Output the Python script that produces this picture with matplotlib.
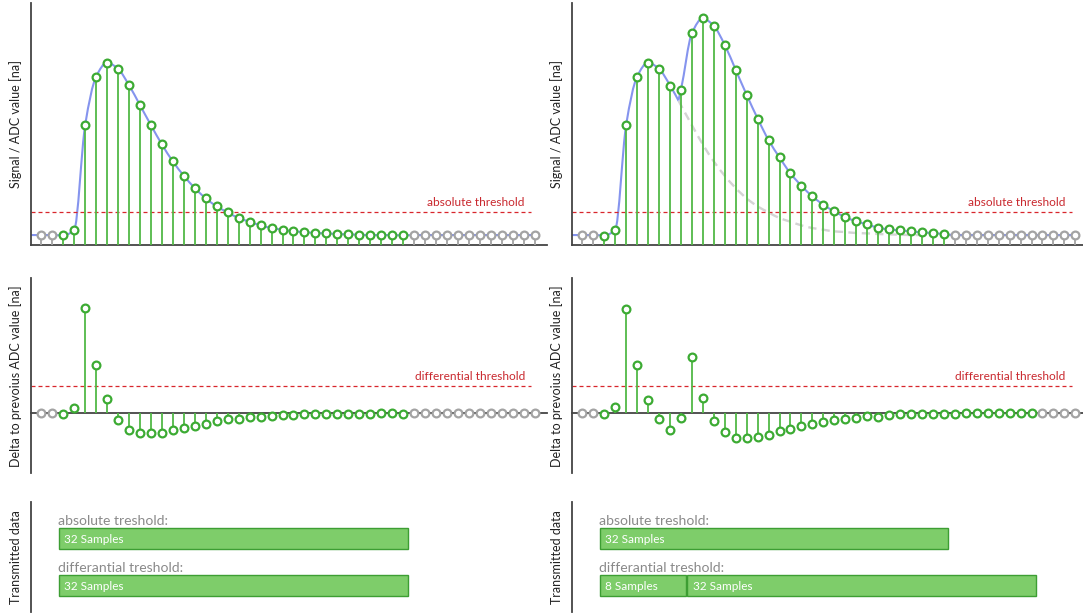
import numpy as np
import matplotlib
matplotlib.use("Agg")
import matplotlib.pyplot as plt
from matplotlib.path import Path
from matplotlib.patches import PathPatch, Rectangle

plt.rcParams["font.family"] = ["Lato", "DejaVu Sans"]

# ---------------------------------------------------------------- data
samples = np.arange(46)

# ADC values of a single pulse
signal_single = [29, 29, 28, 45, 360, 505, 547, 528, 479, 419, 359, 301, 250, 207,
                 170, 139, 115, 97, 80, 69, 58, 50, 45, 40, 38, 35, 34, 32, 31, 30,
                 29, 29, 29, 28, 29, 29, 29, 29, 29, 29, 29, 29, 29, 29, 29, 29]

# ADC values of two overlapping pulses (pile-up)
signal_double = [29, 29, 27, 45, 359, 504, 545, 527, 478, 465, 635, 680, 657, 600,
                 525, 450, 379, 314, 262, 214, 177, 145, 120, 100, 83, 70, 61, 51, 46,
                 43, 40, 37, 35, 32, 29, 29, 29, 29, 29, 29, 29, 29, 29, 29, 29, 29]

# position (in samples) where the second pulse sets in
second_pulse_onset = 8.77

absolute_threshold = 97
differential_threshold = 82

# transmitted sample windows (first, last index)
abs_windows_single = [(2, 33)]
diff_windows_single = [(2, 33)]
abs_windows_double = [(2, 33)]
diff_windows_double = [(2, 9), (10, 41)]

# ---------------------------------------------------------------- style
GREEN = "#3cab33"
GREEN_STEM = "#52b946"
GREY = "#a3a3a3"
BLUE = "#8594ee"
RED = "#d8262c"
RED_TEXT = "#c9282e"
DASH_GREY = "#d4d4d4"
SPINE = "#444444"
BAR_FACE = "#7ecd6a"
BAR_EDGE = "#3d9e33"
LABEL_GREY = "#8a8a8a"

W, H = 1083, 613
fig = plt.figure(figsize=(W / 100, H / 100), dpi=100)


def px_axes(x0, y0, x1, y1):
    return fig.add_axes([x0 / W, 1 - y1 / H, (x1 - x0) / W, (y1 - y0) / H])


def pchip_slopes(x, y):
    x = np.asarray(x, float)
    y = np.asarray(y, float)
    h = np.diff(x)
    d = np.diff(y) / h
    m = np.zeros_like(y)
    for k in range(1, len(y) - 1):
        if d[k - 1] * d[k] > 0:
            w1 = 2 * h[k] + h[k - 1]
            w2 = h[k] + 2 * h[k - 1]
            m[k] = (w1 + w2) / (w1 / d[k - 1] + w2 / d[k])
    m[0] = d[0]
    m[-1] = d[-1]
    return m


def smooth_path(x, y):
    """Monotone cubic Bezier path through the given points."""
    x = np.asarray(x, float)
    y = np.asarray(y, float)
    m = pchip_slopes(x, y)
    verts = [(x[0], y[0])]
    codes = [Path.MOVETO]
    for k in range(len(x) - 1):
        h = x[k + 1] - x[k]
        verts += [(x[k] + h / 3, y[k] + m[k] * h / 3),
                  (x[k + 1] - h / 3, y[k + 1] - m[k + 1] * h / 3),
                  (x[k + 1], y[k + 1])]
        codes += [Path.CURVE4] * 3
    return Path(verts, codes)


def smooth_value(x, y, xq):
    x = np.asarray(x, float)
    y = np.asarray(y, float)
    m = pchip_slopes(x, y)
    k = np.searchsorted(x, xq) - 1
    h = x[k + 1] - x[k]
    t = (xq - x[k]) / h
    h00 = 2 * t**3 - 3 * t**2 + 1
    h10 = t**3 - 2 * t**2 + t
    h01 = -2 * t**3 + 3 * t**2
    h11 = t**3 - t**2
    return h00 * y[k] + h10 * h * m[k] + h01 * y[k + 1] + h11 * h * m[k + 1]


def active_mask(windows):
    mask = np.zeros(len(samples), bool)
    for a, b in windows:
        mask[a:b + 1] = True
    return mask


def style_axes(ax, xlim, ylim, bottom=True):
    ax.set_xlim(*xlim)
    ax.set_ylim(*ylim)
    for s in ("top", "right"):
        ax.spines[s].set_visible(False)
    ax.spines["left"].set_color(SPINE)
    ax.spines["left"].set_linewidth(1.3)
    if bottom:
        ax.spines["bottom"].set_color(SPINE)
        ax.spines["bottom"].set_linewidth(1.3)
    else:
        ax.spines["bottom"].set_visible(False)
    ax.set_xticks([])
    ax.set_yticks([])
    ax.patch.set_alpha(0)


def draw_samples(ax, values, mask, base=0):
    values = np.asarray(values, float)
    cols = np.where(mask, GREEN_STEM, GREY)
    ax.vlines(samples, base, values, colors=cols, lw=1.3, zorder=3)
    ax.plot(samples[mask], values[mask], "o", ms=5.6, mfc="white", mec=GREEN,
            mew=1.6, ls="none", zorder=4)
    ax.plot(samples[~mask], values[~mask], "o", ms=5.6, mfc="white", mec=GREY,
            mew=1.6, ls="none", zorder=4)


def threshold(ax, value, xlim, text, line_end=44.7, text_end=44.1):
    ax.hlines(value, xlim[0], line_end, colors=RED, lw=0.9,
              linestyles=(0, (3.2, 2.4)), zorder=2)
    ax.annotate(text, (text_end, value), xytext=(0, 4.6), textcoords="offset points",
                ha="right", va="baseline", color=RED_TEXT, fontsize=8.6)


def ylabel(ax, text, xfrac, size):
    ax.set_ylabel(text, fontsize=size, color="#222222")
    ax.yaxis.set_label_coords(xfrac, 0.5)


columns = [
    dict(x0=30.7, x1=546.7, xlim=(-0.97, 46.1), signal=signal_single,
         abs_w=abs_windows_single, diff_w=diff_windows_single, pile_up=False),
    dict(x0=571.7, x1=1083, xlim=(-0.97, 45.7), signal=signal_double,
         abs_w=abs_windows_double, diff_w=diff_windows_double, pile_up=True),
]

for col in columns:
    xlim = col["xlim"]
    sig = np.asarray(col["signal"], float)
    lab_x = -9.0 / (col["x1"] - col["x0"])

    # ---------------- signal / ADC value
    ax = px_axes(col["x0"], 3.3, col["x1"], 244.7)
    style_axes(ax, xlim, (0, 725))
    ylabel(ax, "Signal / ADC value [na]", lab_x, 9.0)

    first_x = np.r_[xlim[0], samples]
    first_y = np.r_[signal_single[0], signal_single]
    if col["pile_up"]:
        clip_lo = Rectangle((xlim[0], -100), second_pulse_onset - xlim[0], 1000,
                            transform=ax.transData)
        clip_hi = Rectangle((second_pulse_onset, -100), 100, 1000,
                            transform=ax.transData)
        first = PathPatch(smooth_path(first_x, first_y), fill=False, ec=BLUE,
                          lw=1.5, zorder=2)
        ax.add_patch(first)
        first.set_clip_path(clip_lo)
        tail = PathPatch(smooth_path(first_x, first_y), fill=False, ec=DASH_GREY,
                         lw=1.7, ls=(0, (3.5, 2.2)), zorder=1.5)
        ax.add_patch(tail)
        tail.set_clip_path(clip_hi)
        onset_y = smooth_value(first_x, first_y, second_pulse_onset)
        after = samples > second_pulse_onset
        second = PathPatch(smooth_path(np.r_[second_pulse_onset, samples[after]],
                                       np.r_[onset_y, sig[after]]),
                           fill=False, ec=BLUE, lw=1.5, zorder=2)
        ax.add_patch(second)
    else:
        ax.add_patch(PathPatch(smooth_path(first_x, first_y), fill=False, ec=BLUE,
                               lw=1.5, zorder=2))
    threshold(ax, absolute_threshold, xlim, "absolute threshold")
    draw_samples(ax, sig, active_mask(col["abs_w"]))

    # ---------------- delta to previous value
    delta = np.diff(sig, prepend=sig[0])
    ax = px_axes(col["x0"], 278.3, col["x1"], 473.3)
    style_axes(ax, xlim, (-180, 405))
    ax.spines["bottom"].set_position(("data", 0))
    ylabel(ax, "Delta to prevoius ADC value [na]", lab_x, 9.0)
    threshold(ax, differential_threshold, xlim, "differential threshold")
    draw_samples(ax, delta, active_mask(col["diff_w"]))

    # ---------------- transmitted data
    ax = px_axes(col["x0"], 501.7, col["x1"], 611.7)
    style_axes(ax, xlim, (110, 0), bottom=False)
    ylabel(ax, "Transmitted data", lab_x, 9.0)
    rows = [("absolute treshold:", col["abs_w"], 37.0),
            ("differantial treshold:", col["diff_w"], 83.8)]
    for title, windows, yc in rows:
        ax.text(windows[0][0] - 0.5, yc - 14, title, ha="left", va="baseline",
                fontsize=10.1, color=LABEL_GREY)
        for a, b in windows:
            n = b - a + 1
            ax.barh(yc, n - 0.16, left=a - 0.5 + 0.08, height=21,
                    color=BAR_FACE, edgecolor=BAR_EDGE, lw=1.0)
            ax.annotate(f"{n} Samples", (a - 0.5, yc), xytext=(4.5, 0),
                        textcoords="offset points", ha="left", va="center_baseline",
                        color="white", fontsize=8.5)

fig.savefig("out.png", dpi=100)
